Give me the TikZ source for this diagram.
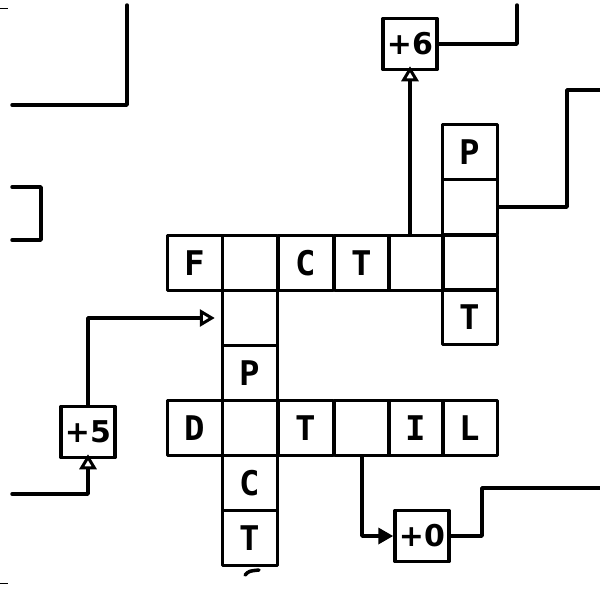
\documentclass[tikz,border=0pt]{standalone}
\usepackage{fontspec}
\setmainfont{DejaVu Sans Mono}
\newfontfamily\numfont{DejaVu Sans}
\usetikzlibrary{arrows.meta}
\begin{document}
\begin{tikzpicture}[x=1pt,y=-1pt,
  ink/.style={line width=3.5pt, line cap=round, line join=round},
  cell/.style={ink, draw, rectangle, minimum width=55pt, minimum height=55pt, inner sep=0pt, font=\fontsize{34}{34}\selectfont\bfseries},
  bonus/.style={ink, draw, rectangle, minimum width=54pt, minimum height=51pt, inner sep=0pt, font=\numfont\fontsize{30}{30}\selectfont\bfseries},
  opentip/.style={-{Triangle[open, length=15pt, width=17pt, line width=3pt]}},
  filltip/.style={-{Triangle[length=15pt, width=16pt]}}]
\useasboundingbox (0,0) rectangle (600,590);
% horizontal word 1
\node[cell] (a1) at (195,263) {F};
\node[cell] (a2) at (250,263) {};
\node[cell] (a3) at (306,263) {C};
\node[cell] (a4) at (362,263) {T};
\node[cell] (a5) at (416,263) {};
\node[cell] (a6) at (470,263) {};
% right vertical word
\node[cell] (v1) at (470,152) {P};
\node[cell] (v2) at (470,207) {};
\node[cell] (v4) at (470,317) {T};
% left vertical word
\node[cell] (w2) at (250,318) {};
\node[cell] (w3) at (250,373) {P};
\node[cell] (w5) at (250,483) {C};
\node[cell] (w6) at (250,538) {T};
% horizontal word 2
\node[cell] (b1) at (195,428) {D};
\node[cell] (b2) at (250,428) {};
\node[cell] (b3) at (306,428) {T};
\node[cell] (b4) at (362,428) {};
\node[cell] (b5) at (416,428) {I};
\node[cell] (b6) at (470,428) {L};
% bonus boxes
\node[bonus] (p6) at (410,44) {+6};
\node[bonus] (p5) at (88,432) {+5};
\node[bonus] (p0) at (422,536) {+0};
% free ends
\coordinate (t6) at (517,5);
\coordinate (r1) at (567,90);
\coordinate (r1e) at (600,90);
\coordinate (r0) at (482,488);
\coordinate (r0e) at (600,488);
\coordinate (l5) at (12,494);
% connectors
\draw[ink, opentip] (a5.north -| p6.south) -- ([yshift=5pt]p6.south);
\draw[ink] (p6.east) -| (t6);
\draw[ink] (v2.east) -| (r1) -- (r1e);
\draw[ink, opentip] (p5.north) |- ([xshift=-6pt]w2.west);
\draw[ink, opentip] (l5) -| ([yshift=5pt]p5.south);
\draw[ink, filltip] (b4.south) |- (p0.west);
\draw[ink] (p0.east) -| (r0) -- (r0e);
% walls on the left
\draw[ink] (12,105) -- (127,105) -- (127,5);
\draw[ink] (12,187) -- (41,187) -- (41,240) -- (12,240);
% little tail under the last cell
\draw[ink] (259,570) .. controls (249,571) .. (245,575);
% edge ticks
\draw[line width=1pt] (0,8) -- (8,8);
\draw[line width=1pt] (0,583) -- (8,583);
\end{tikzpicture}
\end{document}
